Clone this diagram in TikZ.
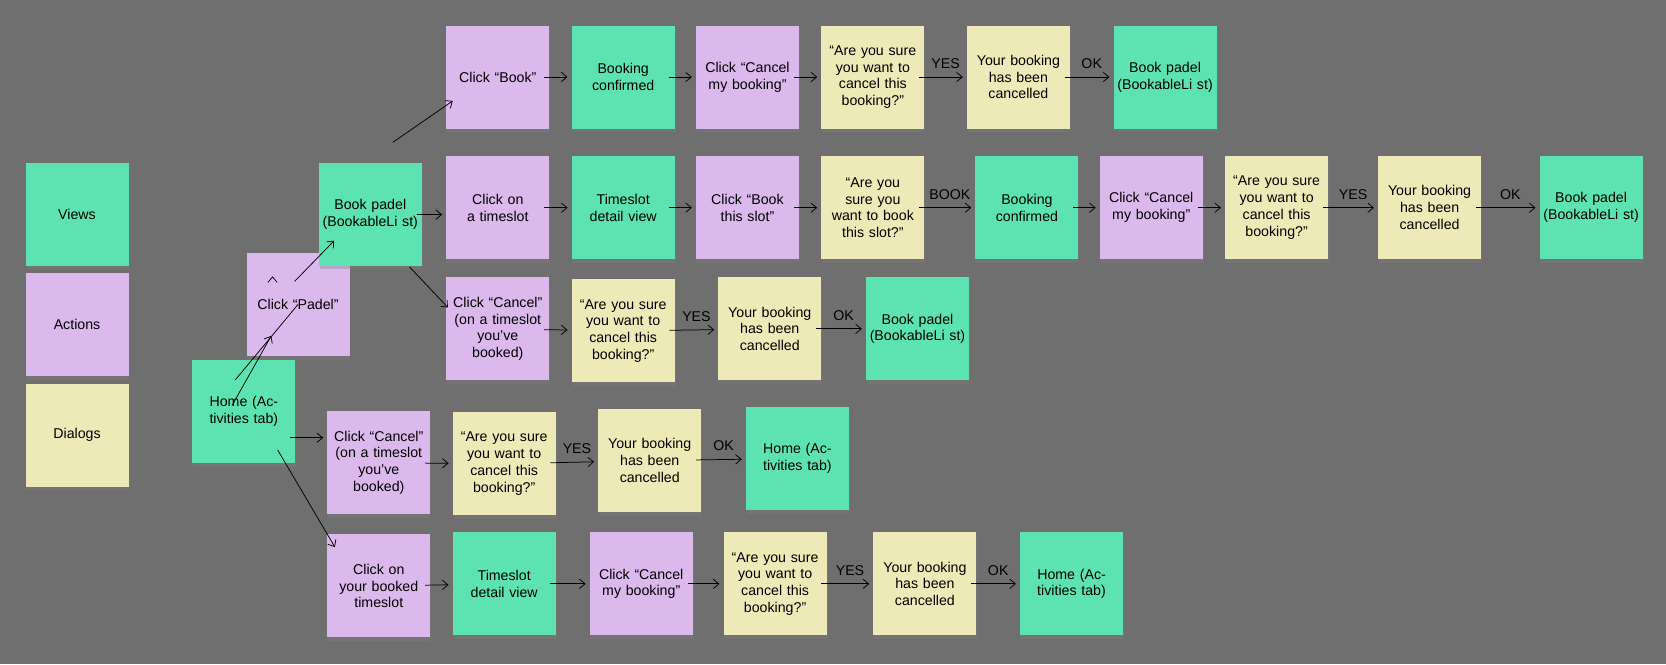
\documentclass[tikz,border=0pt]{standalone}
\usepackage{fontspec}
\setmainfont{Liberation Sans}
\usetikzlibrary{shadows,arrows.meta}
\definecolor{bg}{HTML}{6F6F6F}
\definecolor{viewc}{HTML}{5DE3B2}
\definecolor{actc}{HTML}{DCB9EC}
\definecolor{dlgc}{HTML}{EEEAB8}
\tikzset{
  card/.style={minimum width=1.94cm,minimum height=1.94cm,text width=1.8cm,align=center,
    inner sep=0pt,font=\fontsize{7.6}{9}\selectfont,
    drop shadow={shadow xshift=0.5pt,shadow yshift=-2pt,opacity=0.35}},
  view/.style={card,fill=viewc},
  act/.style={card,fill=actc},
  dlg/.style={card,fill=dlgc},
  flow/.style={-{Straight Barb[length=3pt,width=5pt]},thin,shorten <=-3pt,shorten >=2pt},
  lbl/.style={above,font=\fontsize{7.6}{9}\selectfont,yshift=1pt}
}
\begin{document}
\begin{tikzpicture}[x=0.02cm,y=-0.02cm]
                \fill[bg] (0,0) rectangle (1568,625);
                %% legend
                \node[view] (kview) at (72.5,201.5) {Views};
                \node[act] (kact) at (72.5,305.5) {Actions};
                \node[dlg] (kdlg) at (72.5,409.5) {Dialogs};
                %% start
                \node[view] (home) at (229.5,387.5) {Home (Activities tab)};
                \node[act] (padel) at (280.5,286.5) {Click “Padel”};
                \node[view] (list) at (348.5,201.5) {Book padel (BookableLi st)};
                %% row one
                \node[act] (a1) at (468.5,72.5) {Click “Book”};
                \node[view] (a2) at (586.5,72.5) {Booking confirmed};
                \node[act] (a3) at (703.5,72.5) {Click “Cancel my booking”};
                \node[dlg] (a4) at (821.5,72.5) {“Are you sure you want to cancel this booking?”};
                \node[dlg] (a5) at (958.5,72.5) {Your booking has been cancelled};
                \node[view] (a6) at (1096.5,72.5) {Book padel (BookableLi st)};
                %% row two
                \node[act] (b1) at (468.5,195.5) {Click on a timeslot};
                \node[view] (b2) at (586.5,195.5) {Timeslot detail view};
                \node[act] (b3) at (703.5,195.5) {Click “Book this slot”};
                \node[dlg] (b4) at (821.5,195.5) {“Are you sure you want to book this slot?”};
                \node[view] (b5) at (966.5,195.5) {Booking confirmed};
                \node[act] (b6) at (1083.5,195.5) {Click “Cancel my booking”};
                \node[dlg] (b7) at (1201.5,195.5) {“Are you sure you want to cancel this booking?”};
                \node[dlg] (b8) at (1345.5,195.5) {Your booking has been cancelled};
                \node[view] (b9) at (1497.5,195.5) {Book padel (BookableLi st)};
                %% row three
                \node[act] (c1) at (468.5,309.5) {Click “Cancel” (on a timeslot you’ve booked)};
                \node[dlg] (c2) at (586.5,311.5) {“Are you sure you want to cancel this booking?”};
                \node[dlg] (c3) at (724.5,309.5) {Your booking has been cancelled};
                \node[view] (c4) at (863.5,309.5) {Book padel (BookableLi st)};
                %% row four
                \node[act] (d1) at (356.5,435.5) {Click “Cancel” (on a timeslot you’ve booked)};
                \node[dlg] (d2) at (474.5,436.5) {“Are you sure you want to cancel this booking?”};
                \node[dlg] (d3) at (611.5,433.5) {Your booking has been cancelled};
                \node[view] (d4) at (750.5,431.5) {Home (Activities tab)};
                %% row five
                \node[act] (e1) at (356.5,551.5) {Click on your booked timeslot};
                \node[view] (e2) at (474.5,549.5) {Timeslot detail view};
                \node[act] (e3) at (603.5,549.5) {Click “Cancel my booking”};
                \node[dlg] (e4) at (729.5,549.5) {“Are you sure you want to cancel this booking?”};
                \node[dlg] (e5) at (870.5,549.5) {Your booking has been cancelled};
                \node[view] (e6) at (1008.5,549.5) {Home (Activities tab)};
                %% branches
                \draw[flow] (home.center) ++(-8,-30) coordinate (h1) -- (padel.center) ++(-24,-30) coordinate (p1);
                \draw[flow] (221,377) -- (257,313);
                \draw[flow] (281,261) -- (317,224);
                \draw[flow] (374,131) -- (429,93);
                \draw[flow] (389,255) -- (424,292);
                \draw[flow] (home.east |- 0,412) -- (d1.west |- 0,412);
                \draw[flow] (264,428) -- (317,518);
                %% row arrows
                \draw[flow] (list.east |- 0,202) -- (b1.west |- 0,202);
                \draw[flow] (a1) -- (a2);
                \draw[flow] (a2) -- (a3);
                \draw[flow] (a3) -- (a4);
                \draw[flow] (a4) -- node[lbl] {YES} (a5);
                \draw[flow] (a5) -- node[lbl] {OK} (a6);
                \draw[flow] (b1) -- (b2);
                \draw[flow] (b2) -- (b3);
                \draw[flow] (b3) -- (b4);
                \draw[flow] (b4) -- node[lbl] {BOOK} (b5);
                \draw[flow] (b5) -- (b6);
                \draw[flow] (b6) -- (b7);
                \draw[flow] (b7) -- node[lbl] {YES} (b8);
                \draw[flow] (b8) -- node[lbl] {OK} (b9);
                \draw[flow] (c1) -- (c2);
                \draw[flow] (c2) -- node[lbl] {YES} (c3);
                \draw[flow] (c3) -- node[lbl] {OK} (c4);
                \draw[flow] (d1) -- (d2);
                \draw[flow] (d2) -- node[lbl] {YES} (d3);
                \draw[flow] (d3) -- node[lbl] {OK} (d4);
                \draw[flow] (e1) -- (e2);
                \draw[flow] (e2) -- (e3);
                \draw[flow] (e3) -- (e4);
                \draw[flow] (e4) -- node[lbl] {YES} (e5);
                \draw[flow] (e5) -- node[lbl] {OK} (e6);
\end{tikzpicture}
\end{document}
